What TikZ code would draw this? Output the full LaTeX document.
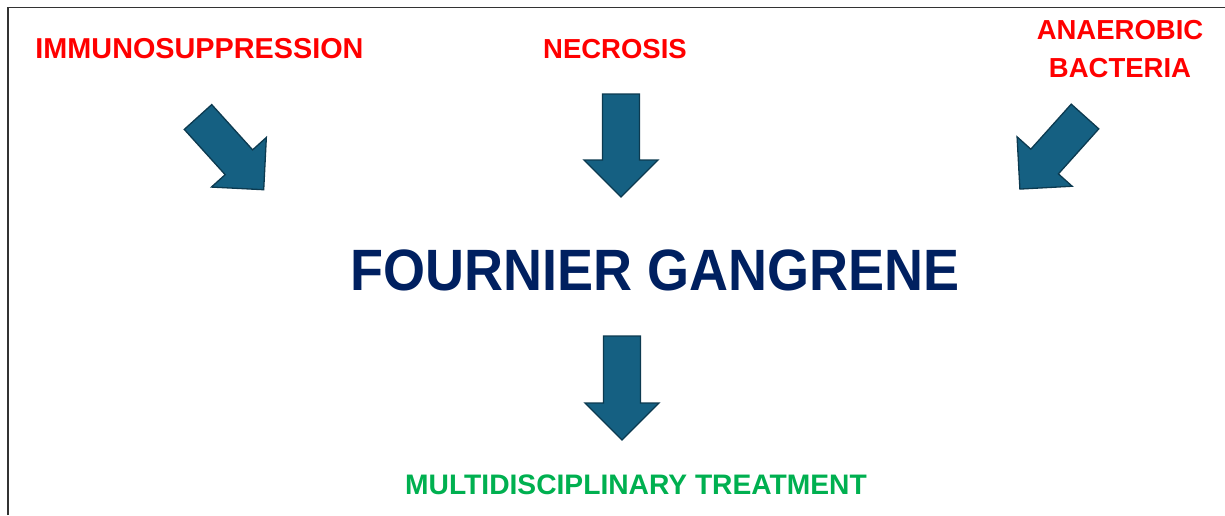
\documentclass[tikz,border=0pt]{standalone}
\usepackage{fontspec}
\setmainfont{Liberation Sans}
\definecolor{redtxt}{HTML}{FF0000}
\definecolor{navytxt}{HTML}{002060}
\definecolor{greentxt}{HTML}{00B050}
\definecolor{arrowfill}{HTML}{156082}
\definecolor{arrowline}{HTML}{0C3A50}
\definecolor{framecol}{HTML}{333333}
\tikzset{
  cause/.style={text=redtxt, font=\fontsize{27.5}{31}\selectfont\bfseries, anchor=base, inner sep=0pt},
  title/.style={text=navytxt, font=\fontsize{54}{60}\selectfont\bfseries, anchor=base, inner sep=0pt},
  result/.style={text=greentxt, font=\fontsize{28.2}{31}\selectfont\bfseries, anchor=base, inner sep=0pt},
  arrowstyle/.style={fill=arrowfill, draw=arrowline, line width=1.3pt, line join=miter},
  pics/blockarrow/.style={code={
    \draw[arrowstyle] (0,-18.5) -- (#1-37,-18.5) -- (#1-37,-37) -- (#1,0)
      -- (#1-37,37) -- (#1-37,18.5) -- (0,18.5) -- cycle;
  }}
}
\begin{document}
\begin{tikzpicture}[x=1pt,y=-1pt]
\useasboundingbox (0,0) rectangle (1225,515);
% frame
\draw[framecol, line width=1.5pt] (8,515) -- (8,7.5) -- (1225,7.5);
% texts
\node[cause, font=\fontsize{28.8}{31}\selectfont\bfseries] (imm) at (199.5,58) {IMMUNOSUPPRESSION};
\node[cause] (nec) at (615,58) {NECROSIS};
\node[cause] (ana1) at (1120,39) {ANAEROBIC};
\node[cause] (ana2) at (1120,77) {BACTERIA};
\node[title, yscale=1.08] (fg) at (655,290) {FOURNIER GANGRENE};
\node[result] (mt) at (636,494) {MULTIDISCIPLINARY TREATMENT};
% block arrows
\pic[rotate=-47.9] (arrL) at (198,117) {blockarrow=98};
\pic[rotate=-90] (arrM) at (621,94) {blockarrow=103};
\pic[rotate=-131.9] (arrR) at (1085,116.5) {blockarrow=97.5};
\pic[rotate=-90] (arrB) at (622,336) {blockarrow=104};
\end{tikzpicture}
\end{document}
